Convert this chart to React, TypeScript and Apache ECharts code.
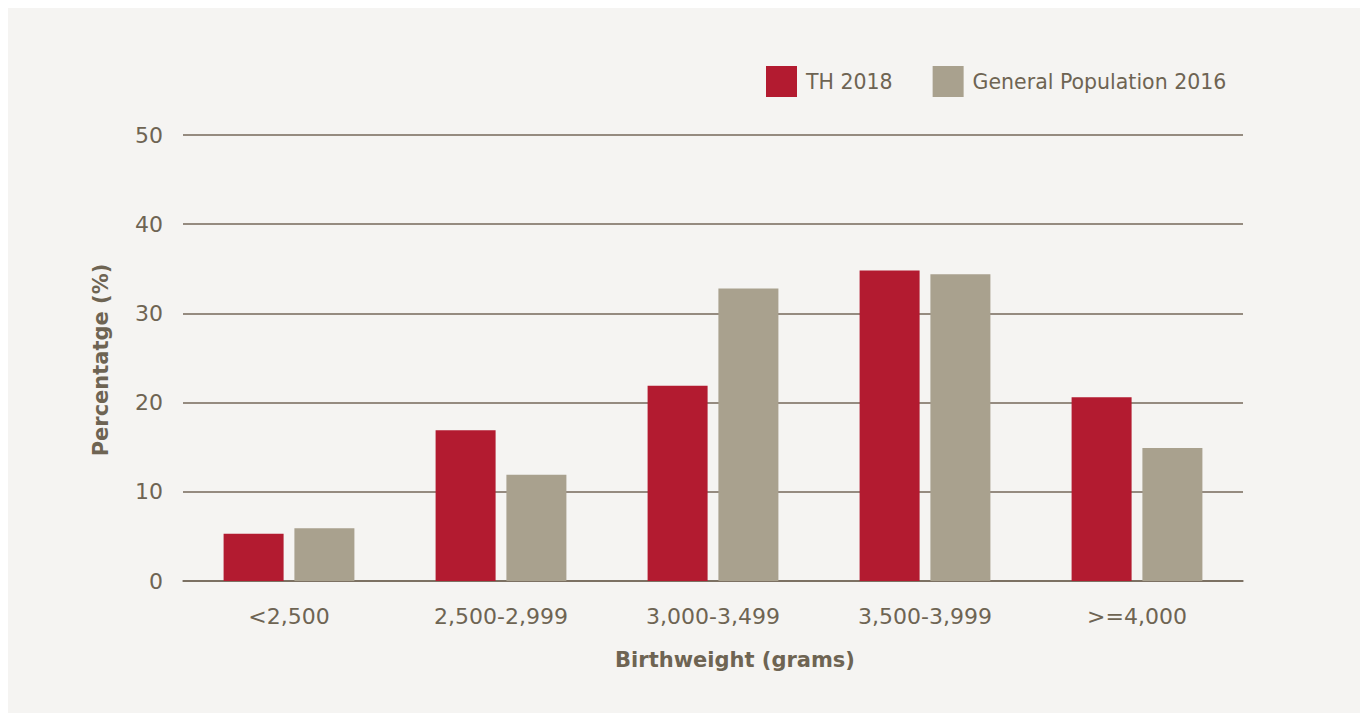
import React, { useEffect, useRef } from "react";
import * as echarts from "echarts";

const categories = ["<2,500", "2,500-2,999", "3,000-3,499", "3,500-3,999", ">=4,000"];
const th2018 = [5.3, 16.9, 21.9, 34.8, 20.6];
const genPop2016 = [5.9, 11.9, 32.8, 34.4, 14.9];
const seriesNames = ["TH 2018", "General Population 2016"];
const yTicks = { min: 0, max: 50, interval: 10 };
const xTitle = "Birthweight (grams)";
const yTitle = "Percentatge (%)";

const FONT = "'DejaVu Sans', sans-serif";
const TEXT = "#6e6453";
const GRID = "#74695a";

export default function App() {
  const ref = useRef<HTMLDivElement>(null);
  useEffect(() => {
    document.body.style.overflow = "hidden";
    const chart = echarts.init(ref.current!, undefined, { renderer: "svg" });
    chart.setOption({
      animation: false,
      backgroundColor: "#f5f4f2",
      textStyle: { fontFamily: FONT },
      legend: {
        left: 753,
        top: 53,
        itemWidth: 31,
        itemHeight: 31,
        itemGap: 40,
        icon: "rect",
        textStyle: { color: TEXT, fontSize: 20.5, fontFamily: FONT, padding: [0, 0, 0, 4] },
        data: seriesNames,
      },
      grid: { left: 175, right: 117, top: 127, bottom: 132, containLabel: false },
      xAxis: {
        type: "category",
        data: categories,
        axisLine: { show: true, lineStyle: { color: GRID, width: 1.5 } },
        axisTick: { show: false },
        axisLabel: { color: TEXT, fontSize: 22, margin: 24, fontFamily: FONT },
      },
      yAxis: {
        type: "value",
        min: yTicks.min,
        max: yTicks.max,
        interval: yTicks.interval,
        axisLine: { show: false },
        axisTick: { show: false },
        axisLabel: { color: TEXT, fontSize: 22, margin: 20, fontFamily: FONT },
        splitLine: { lineStyle: { color: GRID, width: 1.5 } },
      },
      graphic: [
        {
          type: "text",
          x: 727,
          y: 652,
          style: {
            text: xTitle,
            fill: TEXT,
            font: `bold 21px ${FONT}`,
            textAlign: "center",
            textVerticalAlign: "middle",
          },
        },
        {
          type: "text",
          x: 93,
          y: 352,
          rotation: Math.PI / 2,
          style: {
            text: yTitle,
            fill: TEXT,
            font: `bold 21px ${FONT}`,
            textAlign: "center",
            textVerticalAlign: "middle",
          },
        },
      ],
      series: [
        {
          name: seriesNames[0],
          type: "bar",
          data: th2018,
          barWidth: 60,
          barGap: "18%",
          itemStyle: { color: "#b31b30" },
        },
        {
          name: seriesNames[1],
          type: "bar",
          data: genPop2016,
          barWidth: 60,
          itemStyle: { color: "#a9a18e" },
        },
      ],
    });
    return () => chart.dispose();
  }, []);
  return (
    <div
      ref={ref}
      style={{ position: "absolute", left: 8, top: 8, width: 1352, height: 705 }}
    />
  );
}
